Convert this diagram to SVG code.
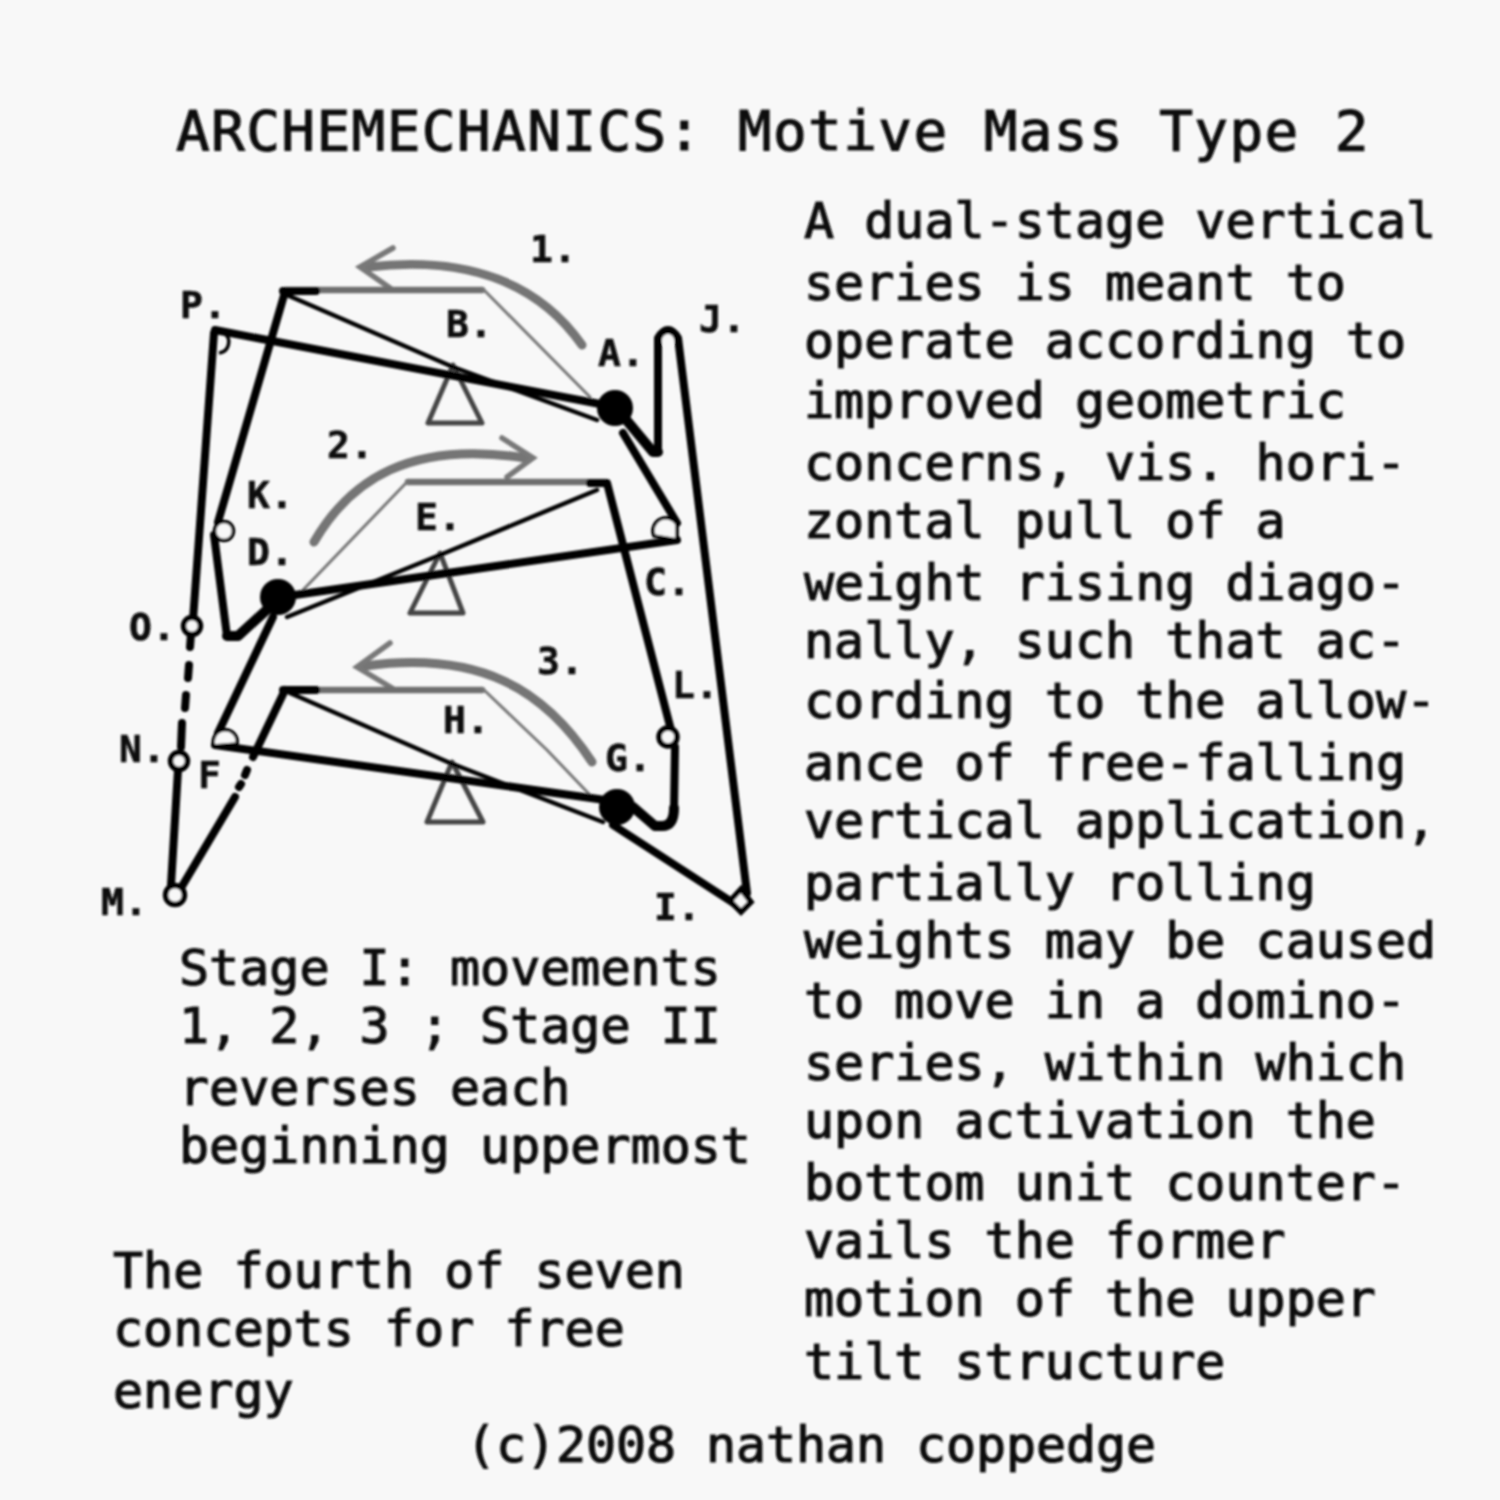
<svg xmlns="http://www.w3.org/2000/svg" width="1500" height="1500" viewBox="0 0 1500 1500">
<style>
text{font-family:"DejaVu Sans Mono","Liberation Mono",monospace;fill:#111;stroke:#111;stroke-width:1.2px}
.t{font-size:50px}
.title{font-size:56px;letter-spacing:1.4px}
.lab{font-size:38px;letter-spacing:.5px;font-weight:bold;fill:#111;stroke-width:.6px}
.k,.h,.g,.f,.n,.tri{fill:none;stroke-linejoin:round;stroke-linecap:round}
.k{stroke:#000;stroke-width:8}
.h{stroke:#000;stroke-width:10}
.f{stroke:#000;stroke-width:4.5}
.g{stroke:#6e6e6e;stroke-width:6.5}
.n{stroke:#777;stroke-width:3}
.a{fill:none;stroke:#747474;stroke-width:9;stroke-linecap:round}
.ah{fill:none;stroke:#787878;stroke-width:5.5;stroke-linecap:round}
.tri{stroke:#444;stroke-width:5}
.o{fill:#f8f8f8;stroke:#000;stroke-width:5.5}
.o2{fill:#f8f8f8;stroke:#000;stroke-width:3.5}
.s{fill:#000}
</style>
<defs><filter id="soft" x="0" y="0" width="1500" height="1500" filterUnits="userSpaceOnUse"><feGaussianBlur stdDeviation="0.8"/></filter></defs>
<rect width="1500" height="1500" fill="#f8f8f8"/>
<g filter="url(#soft)">
<g id="connectors">
  <path class="a" d="M582 345C540 285 470 255 368 267"/>
  <path class="ah" d="M393 248L360 267L390 288"/>
  <path class="a" d="M314 542C350 480 410 440 525 458"/>
  <path class="ah" d="M502 438L533 458L507 477"/>
  <path class="a" d="M592 762C545 690 480 650 365 666"/>
  <path class="ah" d="M390 643L357 667L392 688"/>

  <path class="g" d="M285 290H482"/><path class="n" d="M483 289L590 397"/>
  <path class="g" d="M408 482H606"/><path class="n" d="M407 482L303 590"/>
  <path class="g" d="M285 690H482"/><path class="n" d="M483 689L547 750L590 795"/>

  <path class="tri" d="M453 365L428 423H482Z"/>
  <path class="tri" d="M440 553L410 613H463Z"/>
  <path class="tri" d="M452 762L427 822H483Z"/>

  <path class="f" d="M287 295L453 367L597 420"/>
  <path class="f" d="M597 490L440 555L287 617"/>
  <path class="f" d="M290 693L450 763L603 822"/>

  <path class="k" d="M215 330L600 404"/>
  <path class="k" d="M214 333L193 620"/>
  <path class="k" d="M285 292L218 522"/>
  <path class="k" d="M283 291H316"/>
  <path class="k" d="M623 433L677 523"/>
  <path class="h" d="M618 410L653 452H658"/>
  <path class="k" d="M658 450V338Q668 322 678 338L747 893"/>
  <path class="k" d="M677 540L295 595"/>
  <path class="k" d="M590 483H607L671 730"/>
  <path class="k" d="M214 535L227 636"/>
  <path class="h" d="M227 636H238L272 605"/>
  <path class="k" d="M273 617L218 733"/>
  <path class="k" d="M215 745L605 800"/>
  <path class="k" d="M283 690H316"/>
  <path class="k" d="M285 690L253 757"/>
  <path class="k" d="M247 770L245 775M241 784L239 787"/>
  <path class="k" d="M235 797L181 888"/>
  <path class="k" d="M171 885L178 770"/>
  <path class="k" d="M181 747L182 723M185 708L186 695M188 678L189 665M190 647L191 634"/>
  <path class="h" d="M633 807L655 826H662Q674 826 674 808"/>
  <path class="k" d="M674 810L675 747"/>
  <path class="k" d="M613 825L735 904"/>
</g>
<g id="node-A"><circle class="s" cx="615" cy="408" r="18"/><text class="lab" x="598" y="366">A.</text></g>
<g id="node-B"><text class="lab" x="446" y="337">B.</text></g>
<g id="node-C"><path class="o2" d="M654 536A13 13 0 0 1 677 524L677 540Z"/><text class="lab" x="644" y="595">C.</text></g>
<g id="node-D"><circle class="s" cx="278" cy="597" r="18"/><text class="lab" x="247" y="565">D.</text></g>
<g id="node-E"><text class="lab" x="415" y="530">E.</text></g>
<g id="node-F"><path class="o2" d="M214 746A12 12 0 1 1 237 744Z"/><text class="lab" x="198" y="788">F</text></g>
<g id="node-G"><circle class="s" cx="617" cy="807" r="18"/><text class="lab" x="605" y="771">G.</text></g>
<g id="node-H"><text class="lab" x="443" y="733">H.</text></g>
<g id="node-I"><path class="o" d="M730 901L741 889L751 902L741 912Z"/><text class="lab" x="654" y="920">I.</text></g>
<g id="node-J"><circle fill="#f8f8f8" cx="668" cy="340" r="6"/><text class="lab" x="699" y="332">J.</text></g>
<g id="node-K"><circle class="o2" cx="224" cy="531" r="9.5"/><text class="lab" x="247" y="508">K.</text></g>
<g id="node-L"><circle class="o" cx="668" cy="737" r="9"/><text class="lab" x="672" y="698">L.</text></g>
<g id="node-M"><circle class="o" cx="175" cy="895" r="9.5"/><text class="lab" x="101" y="915">M.</text></g>
<g id="node-N"><circle class="o" cx="179" cy="761" r="8.5"/><text class="lab" x="119" y="762">N.</text></g>
<g id="node-O"><circle class="o" cx="192" cy="626" r="8.5"/><text class="lab" x="129" y="640">O.</text></g>
<g id="node-P"><path class="o2" style="fill:none" d="M224 333A11 11 0 0 1 219 353"/><text class="lab" x="180" y="318">P.</text></g>
<g id="labels">
<text class="lab" x="530" y="262">1.</text>
<text class="lab" x="327" y="458">2.</text>
<text class="lab" x="537" y="674">3.</text>
<text class="title" x="176" y="150">ARCHEMECHANICS: Motive Mass Type 2</text>
<text class="t" x="804" y="238">A dual-stage vertical</text>
<text class="t" x="804" y="300">series is meant to</text>
<text class="t" x="804" y="358">operate according to</text>
<text class="t" x="804" y="418">improved geometric</text>
<text class="t" x="804" y="480">concerns, vis. hori-</text>
<text class="t" x="804" y="538">zontal pull of a</text>
<text class="t" x="804" y="600">weight rising diago-</text>
<text class="t" x="804" y="658">nally, such that ac-</text>
<text class="t" x="804" y="718">cording to the allow-</text>
<text class="t" x="804" y="780">ance of free-falling</text>
<text class="t" x="804" y="838">vertical application,</text>
<text class="t" x="804" y="900">partially rolling</text>
<text class="t" x="804" y="958">weights may be caused</text>
<text class="t" x="804" y="1018">to move in a domino-</text>
<text class="t" x="804" y="1080">series, within which</text>
<text class="t" x="804" y="1138">upon activation the</text>
<text class="t" x="804" y="1200">bottom unit counter-</text>
<text class="t" x="804" y="1258">vails the former</text>
<text class="t" x="804" y="1316">motion of the upper</text>
<text class="t" x="804" y="1379">tilt structure</text>
<text class="t" x="179" y="985">Stage I: movements</text>
<text class="t" x="179" y="1043">1, 2, 3 ; Stage II</text>
<text class="t" x="179" y="1105">reverses each</text>
<text class="t" x="179" y="1163">beginning uppermost</text>
<text class="t" x="113" y="1288">The fourth of seven</text>
<text class="t" x="113" y="1346">concepts for free</text>
<text class="t" x="113" y="1408">energy</text>
<text class="t" x="466" y="1462" style="letter-spacing:-.1px">(c)2008 nathan coppedge</text>
</g>
</g>
</svg>
